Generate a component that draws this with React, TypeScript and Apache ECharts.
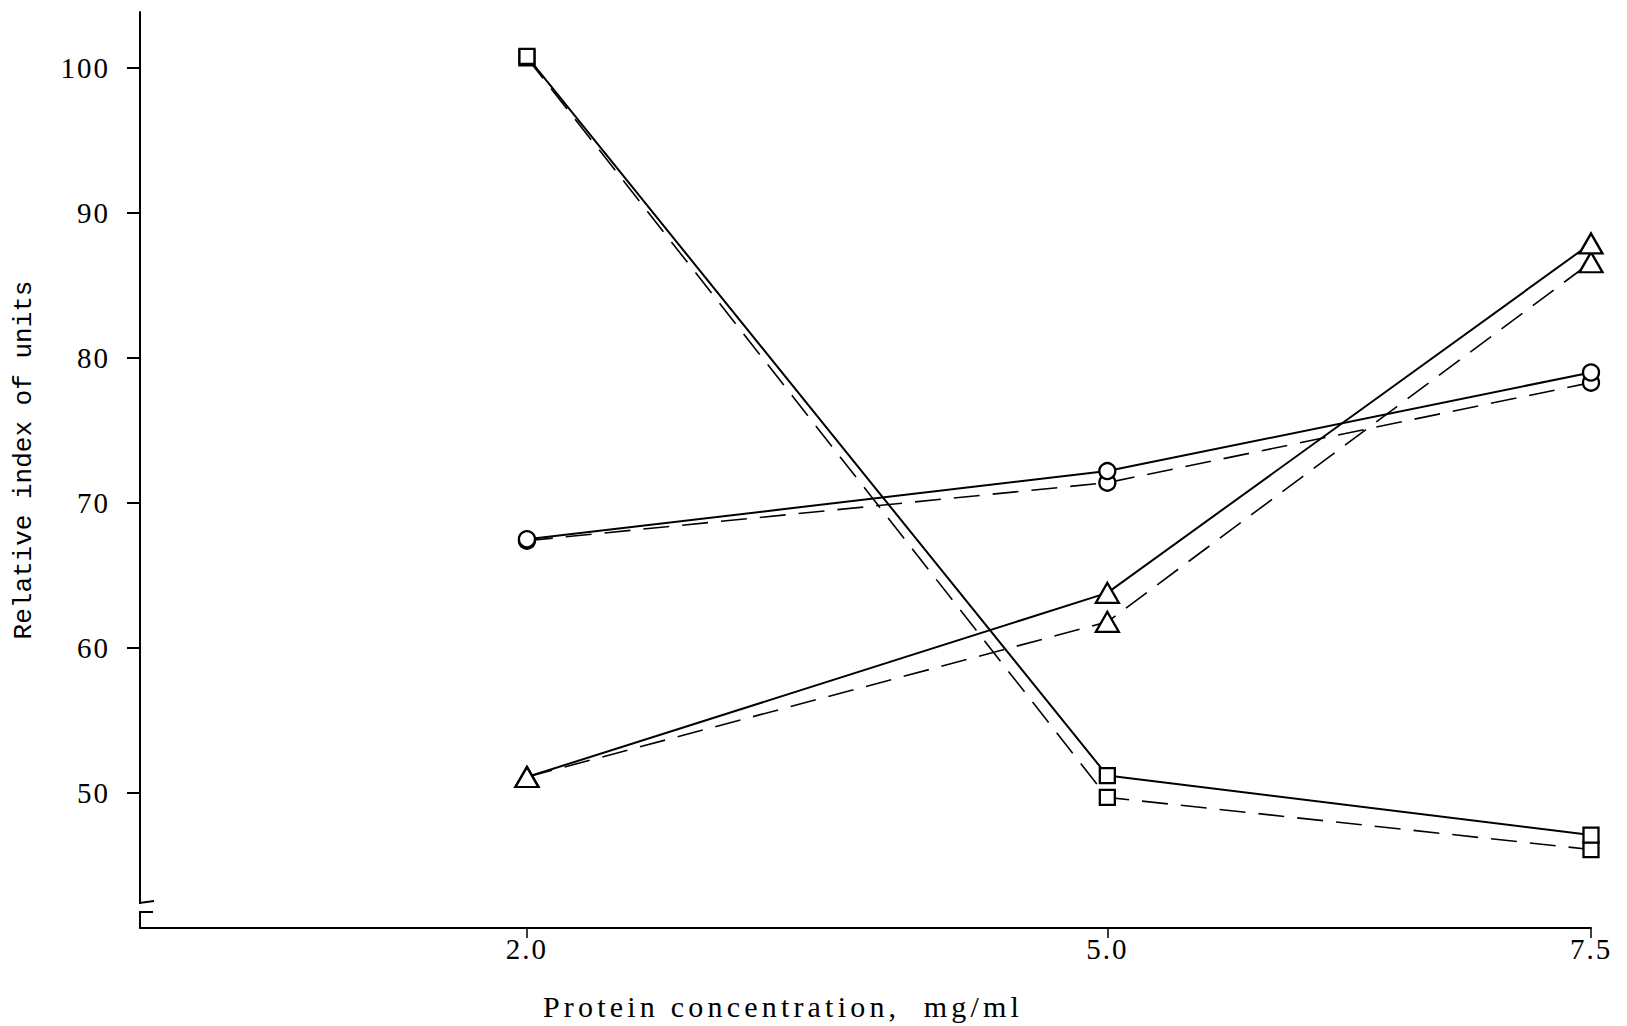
import React, { useEffect, useRef } from "react";
import * as echarts from "echarts";

// Protein concentration (mg/ml)
const xValues = [2.0, 5.0, 7.5];
// Relative index of units
const squareSolid = [100.8, 51.2, 47.1];
const squareDashed = [100.7, 49.7, 46.1];
const circleSolid = [67.5, 72.2, 79.0];
const circleDashed = [67.4, 71.4, 78.3];
const triangleSolid = [51.1, 63.8, 87.9];
const triangleDashed = [51.1, 61.8, 86.6];

const xTicks = [2.0, 5.0, 7.5];
const yTicks = [50, 60, 70, 80, 90, 100];

const xTitle = "Protein concentration,  mg/ml";
const yTitle = "Relative index of units";

const SERIF = "Liberation Serif";
const MONO = "Liberation Mono";

function makeSeries(name: string, vals: number[], symbol: string, size: any, dashed: boolean) {
  return {
    name,
    type: "line",
    data: xValues.map((x, i) => [x, vals[i]]),
    symbol,
    symbolSize: size,
    showSymbol: true,
    showAllSymbol: true,
    lineStyle: {
      color: "#000",
      width: dashed ? 1.6 : 2,
      type: dashed ? [26, 13] : "solid",
    },
    itemStyle: { color: "#fff", borderColor: "#000", borderWidth: 2.3 },
    emphasis: { disabled: true },
    z: dashed ? 2 : 3,
  };
}

export default function App() {
  const ref = useRef<HTMLDivElement>(null);

  useEffect(() => {
    if (!ref.current) return;
    const chart = echarts.init(ref.current, undefined, { renderer: "svg" });
    const option: any = {
      animation: false,
      backgroundColor: "#fff",
      grid: { left: 140, right: 36, top: 12, bottom: 98, containLabel: false },
      xAxis: {
        type: "value",
        min: 0,
        max: 7.5,
        axisLine: { show: true, lineStyle: { color: "#000", width: 2 } },
        axisTick: {
          show: true,
          customValues: xTicks,
          length: 10,
          inside: false,
          lineStyle: { color: "#000", width: 1.5 },
        },
        axisLabel: {
          customValues: xTicks,
          formatter: (v: number) => v.toFixed(1),
          fontFamily: SERIF,
          fontSize: 29,
          color: "#000",
          margin: 6,
        },
        splitLine: { show: false },
      },
      yAxis: {
        type: "value",
        min: 40.69,
        max: 103.86,
        axisLine: { show: true, lineStyle: { color: "#000", width: 2 } },
        axisTick: {
          show: true,
          customValues: yTicks,
          length: 13,
          inside: false,
          lineStyle: { color: "#000", width: 2 },
        },
        axisLabel: {
          customValues: yTicks,
          formatter: (v: number) => String(v),
          fontFamily: SERIF,
          fontSize: 29,
          color: "#000",
          margin: 30,
        },
        splitLine: { show: false },
      },
      series: [
        makeSeries("squares A", squareDashed, "rect", 15, true),
        makeSeries("squares B", squareSolid, "rect", 15, false),
        makeSeries("circles A", circleDashed, "circle", 16, true),
        makeSeries("circles B", circleSolid, "circle", 16, false),
        makeSeries("triangles A", triangleDashed, "triangle", [23, 20], true),
        makeSeries("triangles B", triangleSolid, "triangle", [23, 20], false),
      ],
      graphic: [
        {
          type: "text",
          x: 783,
          y: 1006,
          style: {
            text: xTitle,
            fontFamily: SERIF,
            fontSize: 30,
            fill: "#000",
            align: "center",
            textAlign: "center",
            verticalAlign: "middle",
            textVerticalAlign: "middle",
          },
        },
        {
          type: "text",
          x: 24,
          y: 460,
          rotation: Math.PI / 2,
          style: {
            text: yTitle,
            fontFamily: MONO,
            fontSize: 26,
            fill: "#000",
            align: "center",
            textAlign: "center",
            verticalAlign: "middle",
            textVerticalAlign: "middle",
          },
        },
        // axis break mark
        {
          type: "rect",
          shape: { x: 134, y: 904, width: 12, height: 7 },
          style: { fill: "#fff" },
          z: 50,
        },
        {
          type: "line",
          shape: { x1: 139, y1: 903, x2: 154, y2: 901 },
          style: { stroke: "#000", lineWidth: 2 },
          z: 51,
        },
        {
          type: "line",
          shape: { x1: 140, y1: 912, x2: 153, y2: 912 },
          style: { stroke: "#000", lineWidth: 2 },
          z: 51,
        },
      ],
    };
    chart.setOption(option);
    return () => chart.dispose();
  }, []);

  return (
    <>
      <style>{`
        #chart-box text[style*="29px"] { letter-spacing: 2px; }
        #chart-box text[style*="30px"] { letter-spacing: 4.2px; }
      `}</style>
      <div
        id="chart-box"
        ref={ref}
        style={{ position: "absolute", left: 0, top: 0, width: 1627, height: 1026, background: "#fff" }}
      />
    </>
  );
}
